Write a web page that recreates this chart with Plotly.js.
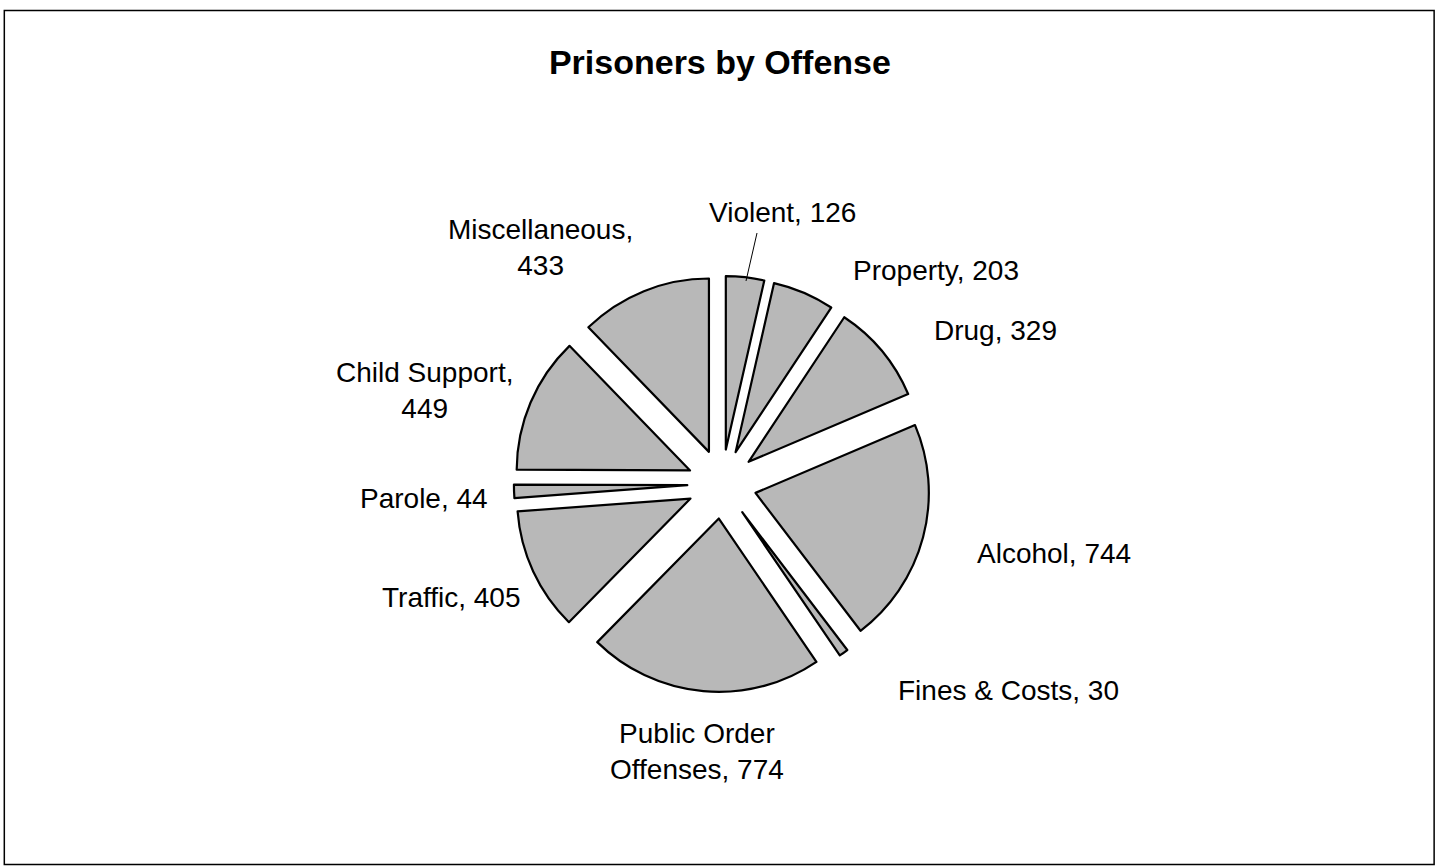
<!DOCTYPE html>
<html>
<head>
<meta charset="utf-8">
<script src="https://cdn.plot.ly/plotly-3.0.1.min.js"></script>
<style>html,body{margin:0;padding:0;background:#fff;}#chart{width:1437px;height:867px;}</style>
</head>
<body>
<div id="chart"></div>
<script>
var categories = ["Violent", "Property", "Drug", "Alcohol", "Fines & Costs", "Public Order Offenses", "Traffic", "Parole", "Child Support", "Miscellaneous"];
var values = [126, 203, 329, 744, 30, 774, 405, 44, 449, 433];
var labelNames = ["Violent", "Property", "Drug", "Alcohol", "Fines & Costs", "Public Order<br>Offenses", "Traffic", "Parole", "Child Support,<br>", "Miscellaneous,<br>"];

// label placement (pixel centres in the 1437x867 page), as in the reference
var W = 1437, H = 867;
var labelPosX = [782, 936, 995, 1054, 1008, 697, 451, 424, 424, 540];
var labelPosY = [212, 270, 330, 553, 690, 751, 597, 498, 390, 247];

function labelText(i) {
  var n = labelNames[i];
  if (n.slice(-4) === '<br>') return n + values[i];
  return n + ', ' + values[i];
}

var FONT = 'Liberation Sans, Arial, sans-serif';

var trace = {
  type: 'pie',
  labels: categories,
  values: values,
  textinfo: 'none',
  sort: false,
  direction: 'clockwise',
  rotation: 0,
  pull: 0.2,
  marker: {colors: categories.map(function(){return '#b8b8b8';}), line: {color: '#000', width: 2.2}},
  domain: {x: [0.3024, 0.7024], y: [0.2018, 0.6817]},
  automargin: false,
  showlegend: false,
  hoverinfo: 'none'
};

var annotations = categories.map(function(c, i) {
  return {
    xref: 'paper', yref: 'paper',
    x: labelPosX[i] / W, y: 1 - labelPosY[i] / H,
    text: labelText(i),
    showarrow: false,
    xanchor: 'center', yanchor: 'middle', align: 'center',
    font: {family: FONT, size: 28, color: '#000'}
  };
});

var layout = {
  width: W, height: H,
  margin: {l: 0, r: 0, t: 0, b: 0},
  paper_bgcolor: '#fff',
  title: {text: '<b>Prisoners by Offense</b>', font: {family: FONT, size: 34, color: '#000'}, x: 0.501, xanchor: 'center', y: 0.928, yanchor: 'middle'},
  annotations: annotations,
  shapes: [
    {type: 'rect', xref: 'paper', yref: 'paper', x0: 0.003, x1: 0.998, y0: 0.003, y1: 0.988, line: {color: '#000', width: 1.5}},
    // leader line from the Violent label to its slice
    {type: 'line', xref: 'paper', yref: 'paper', x0: 757 / W, y0: 1 - 233 / H, x1: 746 / W, y1: 1 - 281 / H, line: {color: '#000', width: 1}}
  ]
};

Plotly.newPlot('chart', [trace], layout, {displayModeBar: false, staticPlot: true});
</script>
</body>
</html>
